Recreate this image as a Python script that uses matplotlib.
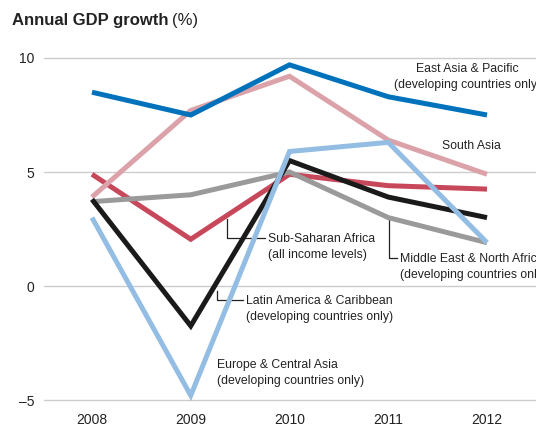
import matplotlib.pyplot as plt

plt.rcParams['font.family'] = ['Liberation Sans', 'DejaVu Sans']

years = [2008, 2009, 2010, 2011, 2012]
east_asia = [8.5, 7.5, 9.7, 8.3, 7.5]
south_asia = [3.9, 7.7, 9.2, 6.4, 4.9]
sub_saharan = [4.9, 2.05, 4.9, 4.4, 4.25]
latin_america = [3.8, -1.75, 5.5, 3.9, 3.0]
middle_east = [3.7, 4.0, 5.0, 3.0, 1.9]
europe_ca = [3.0, -4.8, 5.9, 6.3, 1.9]
yticks = [-5, 0, 5, 10]

# drawing order bottom -> top
series = [
    (sub_saharan, '#c8485b'),
    (south_asia, '#dba3a9'),
    (middle_east, '#9a9a9a'),
    (latin_america, '#1a1a1a'),
    (europe_ca, '#94bde4'),
    (east_asia, '#0072bc'),
]

fig = plt.figure(figsize=(5.36, 4.29), dpi=100)
# y range -5.2..10.2 -> 22.8 px per unit, 10 at y=58, -5 at y=400
ax = fig.add_axes([44/536, (429 - 404.56)/429, 492/536, 351.12/429])

for vals, col in series:
    ax.plot(years, vals, color=col, lw=3.6, solid_capstyle='butt',
            solid_joinstyle='miter', clip_on=False, zorder=3)

ax.set_xlim(2007.514, 2012.496)
ax.set_ylim(-5.2, 10.2)
ax.set_yticks(yticks)
ax.set_xticks(years)
ax.grid(axis='y', color='#cccccc', lw=1)
for s in ax.spines.values():
    s.set_visible(False)
ax.tick_params(length=0, labelsize=10, colors='#222222')
ax.tick_params(axis='y', pad=7)
ax.tick_params(axis='x', pad=6)
ax.set_yticklabels(['\u20135', '0', '5', '10'])

t = fig.text(12/536, 1 - 20/429, 'Annual GDP growth', fontsize=12, fontweight='bold',
             color='#222222', va='center')
fig.canvas.draw()
bb = t.get_window_extent()
fig.text(bb.x1 / 536 + 0.006, 1 - 20/429, '(%)', fontsize=12, color='#222222', va='center')

fs = 8.8
tc = '#222222'
ls = 1.45
ax.text(2011.8, 9.8, 'East Asia & Pacific\n(developing countries only)', fontsize=fs,
        color=tc, ha='center', va='top', linespacing=ls)
ax.text(2011.84, 6.15, 'South Asia', fontsize=fs, color=tc, ha='center', va='center')

# leader lines + labels
off = 0.22
ax.plot([2009.364, 2009.364, 2009.752], [2.95, 2.105, 2.105], color=tc, lw=0.9)
ax.text(2009.782, 2.105 + off, 'Sub-Saharan Africa\n(all income levels)', fontsize=fs,
        color=tc, va='top', linespacing=ls)
ax.plot([2011.008, 2011.008, 2011.089], [3.0, 1.23, 1.23], color=tc, lw=0.9)
ax.text(2011.119, 1.23 + off, 'Middle East & North Africa\n(developing countries only)',
        fontsize=fs, color=tc, va='top', linespacing=ls)
ax.plot([2009.263, 2009.263, 2009.529], [-0.2, -0.61, -0.61], color=tc, lw=0.9)
ax.text(2009.559, -0.61 + off, 'Latin America & Caribbean\n(developing countries only)',
        fontsize=fs, color=tc, va='top', linespacing=ls)
ax.text(2009.266, -3.42 + off, 'Europe & Central Asia\n(developing countries only)',
        fontsize=fs, color=tc, va='top', linespacing=ls)

fig.savefig('out.png', dpi=100)
